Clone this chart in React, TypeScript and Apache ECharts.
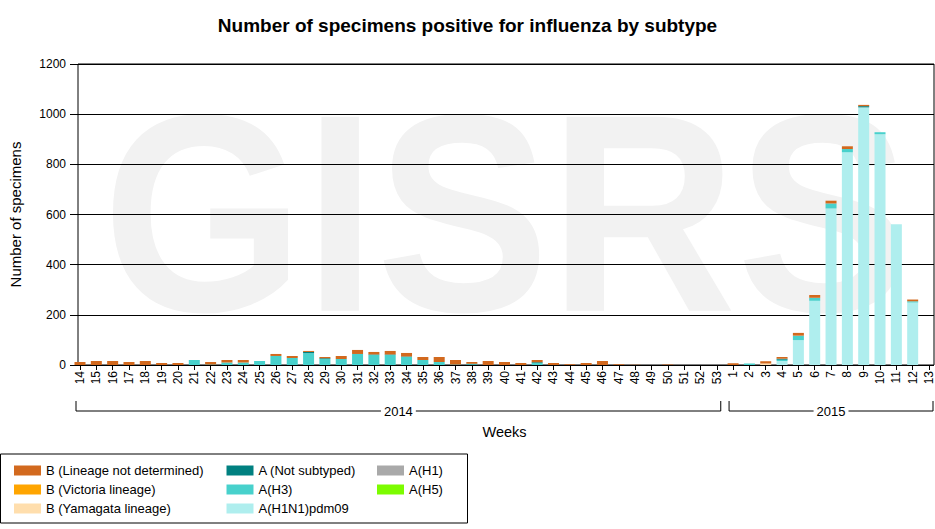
import * as echarts from "echarts";
import { useEffect, useRef } from "react";

const WEEKS = [
  "14", "15", "16", "17", "18", "19", "20", "21", "22", "23",
  "24", "25", "26", "27", "28", "29", "30", "31", "32", "33",
  "34", "35", "36", "37", "38", "39", "40", "41", "42", "43",
  "44", "45", "46", "47", "48", "49", "50", "51", "52", "53",
  "1", "2", "3", "4", "5", "6", "7", "8", "9", "10", "11", "12", "13",
];

// year brackets under the week labels: label, first week index, last week index
const YEARS = ["2014", "2015"];
const YEAR_FIRST = [0, 40];
const YEAR_LAST = [39, 52];

// weeks 14..53 of 2014, then 1..13 of 2015
const H1N1PDM09 = [
  0, 0, 0, 0, 0, 0, 0, 0, 0, 0,
  0, 0, 0, 0, 0, 0, 0, 0, 0, 0,
  0, 0, 0, 0, 0, 0, 0, 0, 0, 0,
  0, 0, 0, 0, 0, 0, 0, 0, 0, 0,
  0, 0, 0, 16, 99, 256, 624, 848, 1027, 920, 561, 249, 0,
];
const H3 = [
  0, 0, 0, 0, 0, 0, 0, 20, 2, 10,
  10, 16, 36, 28, 47, 24, 24, 44, 40, 40,
  32, 20, 12, 2, 3, 0, 0, 0, 8, 0,
  0, 0, 0, 0, 0, 0, 0, 0, 0, 0,
  0, 6, 0, 5, 18, 12, 20, 13, 0, 8, 0, 5, 0,
];
const H5 = new Array(53).fill(0);
const H1 = new Array(53).fill(0);
const NOT_SUBTYPED = [
  0, 0, 0, 0, 0, 0, 0, 0, 0, 0,
  0, 0, 0, 0, 5, 3, 0, 0, 2, 2,
  2, 0, 0, 0, 2, 0, 0, 0, 3, 0,
  0, 0, 0, 0, 0, 0, 0, 0, 0, 0,
  0, 0, 0, 4, 0, 0, 0, 0, 5, 0, 0, 0, 0,
];
const B_YAMAGATA = [
  0, 0, 0, 0, 0, 0, 0, 0, 0, 0,
  0, 0, 0, 0, 0, 0, 0, 0, 0, 0,
  0, 0, 0, 0, 0, 0, 0, 0, 0, 0,
  0, 0, 0, 0, 0, 0, 0, 0, 0, 0,
  0, 0, 6, 0, 0, 0, 0, 0, 0, 0, 0, 0, 0,
];
const B_VICTORIA = new Array(53).fill(0);
const B_NOT_DETERMINED = [
  12, 16, 16, 12, 16, 8, 8, 0, 10, 10,
  10, 0, 8, 8, 4, 5, 12, 16, 10, 14,
  14, 12, 20, 18, 7, 16, 12, 8, 9, 8,
  3, 8, 16, 3, 1, 0, 2, 0, 0, 0,
  7, 0, 9, 7, 11, 11, 11, 11, 5, 0, 0, 7, 0,
];

const Y_TICKS = [0, 200, 400, 600, 800, 1000, 1200];

const FONT = "'Liberation Sans', Arial, sans-serif";

// stacking order, bottom first
const SERIES = [
  { name: "A(H1N1)pdm09", data: H1N1PDM09, color: "#AFEEEE" },
  { name: "A(H3)", data: H3, color: "#48D1CC" },
  { name: "A(H5)", data: H5, color: "#7CFC00" },
  { name: "A(H1)", data: H1, color: "#A9A9A9" },
  { name: "A (Not subtyped)", data: NOT_SUBTYPED, color: "#008080" },
  { name: "B (Yamagata lineage)", data: B_YAMAGATA, color: "#FFDEAD" },
  { name: "B (Victoria lineage)", data: B_VICTORIA, color: "#FFA500" },
  { name: "B (Lineage not determined)", data: B_NOT_DETERMINED, color: "#D2691E" },
];

const LEGEND_COLUMNS = [
  ["B (Lineage not determined)", "B (Victoria lineage)", "B (Yamagata lineage)"],
  ["A (Not subtyped)", "A(H3)", "A(H1N1)pdm09"],
  ["A(H1)", "A(H5)"],
];
const LEGEND_LEFT = [14, 226.5, 377];

function InfluenzaChart(): React.ReactElement {
  const containerRef = useRef<HTMLDivElement | null>(null);

  useEffect(() => {
    const target = containerRef.current;
    if (target === null) return;

    const chart = echarts.init(target, null, { renderer: "svg" });

    const yMax = Y_TICKS[Y_TICKS.length - 1];
    const yStep = Y_TICKS[1] - Y_TICKS[0];

    chart.setOption({
      animation: false,
      textStyle: { fontFamily: FONT, color: "#000" },
      title: {
        text: "Number of specimens positive for influenza by subtype",
        left: "center",
        top: 16,
        padding: 0,
        textStyle: { fontFamily: FONT, fontSize: 19, fontWeight: "bold", color: "#000" },
      },
      legend: LEGEND_COLUMNS.map((names, i) => ({
        data: names,
        orient: "vertical",
        left: LEGEND_LEFT[i],
        top: 464,
        padding: 0,
        itemGap: 6,
        itemWidth: 27,
        itemHeight: 10,
        icon: "rect",
        selectedMode: false,
        textStyle: { fontFamily: FONT, fontSize: 13, lineHeight: 13, color: "#000" },
      })),
      grid: [
        // data grid: first and last week sit near the frame edges
        { left: 80, right: 4, top: 64, bottom: 164 },
        // frame grid: carries the value axis, grid lines and border
        {
          left: 76,
          right: 1,
          top: 64,
          bottom: 164,
          show: true,
          borderColor: "#000",
          borderWidth: 1,
          backgroundColor: "transparent",
        },
      ],
      xAxis: [
        {
          type: "category",
          gridIndex: 0,
          data: WEEKS,
          boundaryGap: false,
          name: "Weeks",
          nameLocation: "middle",
          nameGap: 59,
          nameTextStyle: { fontFamily: FONT, fontSize: 14.5, color: "#000" },
          axisLine: { show: false },
          axisTick: { show: true, length: 5, interval: 0, lineStyle: { color: "#000" } },
          axisLabel: {
            interval: 0,
            rotate: 90,
            margin: 6,
            fontFamily: FONT,
            fontSize: 12,
            color: "#000",
          },
          splitLine: { show: false },
        },
        { type: "value", gridIndex: 1, show: false, min: 0, max: 1 },
      ],
      yAxis: [
        { type: "value", gridIndex: 0, show: false, min: 0, max: yMax, interval: yStep },
        {
          type: "value",
          gridIndex: 1,
          min: 0,
          max: yMax,
          interval: yStep,
          name: "Number of specimens",
          nameLocation: "middle",
          nameGap: 55,
          nameTextStyle: { fontFamily: FONT, fontSize: 15, color: "#000" },
          axisLine: { show: false },
          axisTick: { show: true, length: 8, lineStyle: { color: "#000" } },
          axisLabel: {
            margin: 12,
            fontFamily: FONT,
            fontSize: 12,
            color: "#000",
            formatter: (v: number) => String(v),
          },
          splitLine: { show: true, lineStyle: { color: "#000", width: 1 } },
        },
      ],
      series: SERIES.map((s) => ({
        name: s.name,
        type: "bar",
        stack: "total",
        xAxisIndex: 0,
        yAxisIndex: 0,
        barWidth: 11,
        clip: false,
        data: s.data,
        itemStyle: { color: s.color },
      })),
    });

    // year brackets, placed from the category axis positions
    const bracketTop = 401;
    const bracketBottom = 411;
    const bracketElements = YEARS.flatMap((label, i) => {
      const x0 = (chart.convertToPixel({ xAxisIndex: 0 }, YEAR_FIRST[i]) as number) - 4;
      const x1 = (chart.convertToPixel({ xAxisIndex: 0 }, YEAR_LAST[i]) as number) + 4;
      return [
        {
          type: "polyline",
          silent: true,
          shape: {
            points: [
              [x0, bracketTop],
              [x0, bracketBottom],
              [x1, bracketBottom],
              [x1, bracketTop],
            ],
          },
          style: { stroke: "#000", lineWidth: 1, fill: "none" },
        },
        {
          type: "text",
          silent: true,
          z: 5,
          x: (x0 + x1) / 2,
          y: bracketBottom,
          style: {
            text: label,
            font: `13px ${FONT}`,
            fill: "#000",
            align: "center",
            verticalAlign: "middle",
            backgroundColor: "#fff",
            padding: [0, 3],
          },
        },
      ];
    });

    chart.setOption({
      graphic: [
        {
          type: "text",
          silent: true,
          z: -10,
          x: 506,
          y: 72,
          scaleX: 0.92,
          style: {
            text: "GISRS",
            font: `bold 282px ${FONT}`,
            fill: "#f2f2f2",
            align: "center",
            verticalAlign: "top",
          },
        },
        {
          type: "rect",
          silent: true,
          shape: { x: 0.5, y: 454, width: 467, height: 69 },
          style: { fill: "none", stroke: "#000", lineWidth: 1 },
        },
        ...bracketElements,
      ],
    });

    return () => {
      chart.dispose();
    };
  }, []);

  return (
    <div
      ref={containerRef}
      style={{ position: "absolute", left: 0, top: 0, width: 935, height: 529 }}
    />
  );
}

export default function App(): React.ReactElement {
  return <InfluenzaChart />;
}
